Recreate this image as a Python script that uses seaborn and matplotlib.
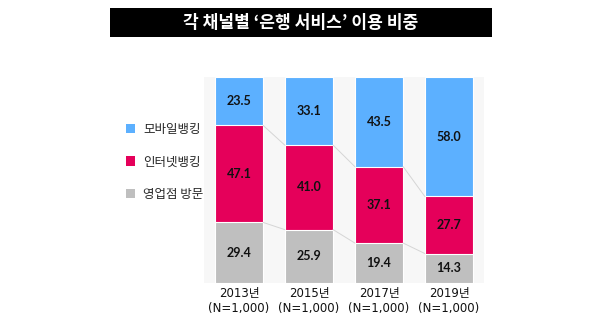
import matplotlib
matplotlib.use("Agg")
import matplotlib.pyplot as plt
from matplotlib.patches import Rectangle, Patch
import seaborn as sns
import pandas as pd
import numpy as np

years = ["2013년\n(N=1,000)", "2015년\n(N=1,000)", "2017년\n(N=1,000)", "2019년\n(N=1,000)"]
mobile = [23.5, 33.1, 43.5, 58.0]
internet = [47.1, 41.0, 37.1, 27.7]
branch = [29.4, 25.9, 19.4, 14.3]
series_names = ["모바일뱅킹", "인터넷뱅킹", "영업점 방문"]
colors = ["#5cb0ff", "#e5005a", "#bfbfbf"]
title = "각 채널별 ‘은행 서비스’ 이용 비중"

sns.set_theme(style="white")
plt.rcParams['font.family'] = ['Noto Sans CJK KR', 'DejaVu Sans']

W, H = 600, 335
fig = plt.figure(figsize=(6, 3.35), dpi=100)
fig.patch.set_facecolor("white")

ax = fig.add_axes([204 / W, 1 - 283 / H, 280 / W, 206 / H])
ax.set_facecolor("#f7f7f7")

df = pd.DataFrame({"year": years, "mobile": mobile, "internet": internet, "branch": branch})
df["top"] = df["mobile"] + df["internet"] + df["branch"]
df["mid"] = df["internet"] + df["branch"]

bw = 0.69
sns.barplot(data=df, x="year", y="top", color=colors[0], width=bw, saturation=1,
            edgecolor="white", linewidth=0.8, ax=ax)
sns.barplot(data=df, x="year", y="mid", color=colors[1], width=bw, saturation=1,
            edgecolor="white", linewidth=0.8, ax=ax)
sns.barplot(data=df, x="year", y="branch", color=colors[2], width=bw, saturation=1,
            edgecolor="white", linewidth=0.8, ax=ax)

# connector lines
for i in range(len(years) - 1):
    for col in ["mid", "branch"]:
        ax.plot([i + bw / 2, i + 1 - bw / 2], [df[col][i], df[col][i + 1]],
                color="#d5d5d5", lw=0.7, zorder=1)

# value labels
lab_kw = dict(ha="center", va="center", fontsize=9, fontweight="bold",
              color="#111111", family=["Lato", "DejaVu Sans"])
for i in range(len(years)):
    b = branch[i]
    m = internet[i]
    t = mobile[i]
    ax.text(i, b / 2, f"{b:.1f}", **lab_kw)
    ax.text(i, b + m / 2, f"{m:.1f}", **lab_kw)
    ax.text(i, b + m + t / 2, f"{t:.1f}", **lab_kw)

ax.set_xlim(-0.5, len(years) - 0.5)
ax.set_ylim(0, 100)
ax.set_xlabel("")
ax.set_ylabel("")
ax.set_yticks([])
ax.tick_params(axis="x", length=0, pad=3, labelsize=8.5, colors="#111111")
for t in ax.get_xticklabels():
    t.set_family(['DejaVu Sans', 'Noto Sans CJK KR'])
    t.set_linespacing(1.2)
for s in ax.spines.values():
    s.set_visible(False)

# legend
handles = [Patch(facecolor=c, edgecolor="none") for c in colors]
fig.legend(handles, series_names, loc="upper left", bbox_to_anchor=(121 / W, 1 - 118 / H),
           frameon=False, fontsize=9, handlelength=0.75, handleheight=0.75,
           handletextpad=0.6, labelspacing=1.55, borderaxespad=0)

# title box
fig.patches.append(Rectangle((110 / W, 1 - 37 / H), 382 / W, 29 / H, transform=fig.transFigure,
                             facecolor="black", edgecolor="none", zorder=0))
fig.text(301 / W, 1 - 22.5 / H, title, ha="center", va="center", color="white",
         fontsize=12.3, fontweight="bold")

fig.savefig("out.png", dpi=100, facecolor="white")
